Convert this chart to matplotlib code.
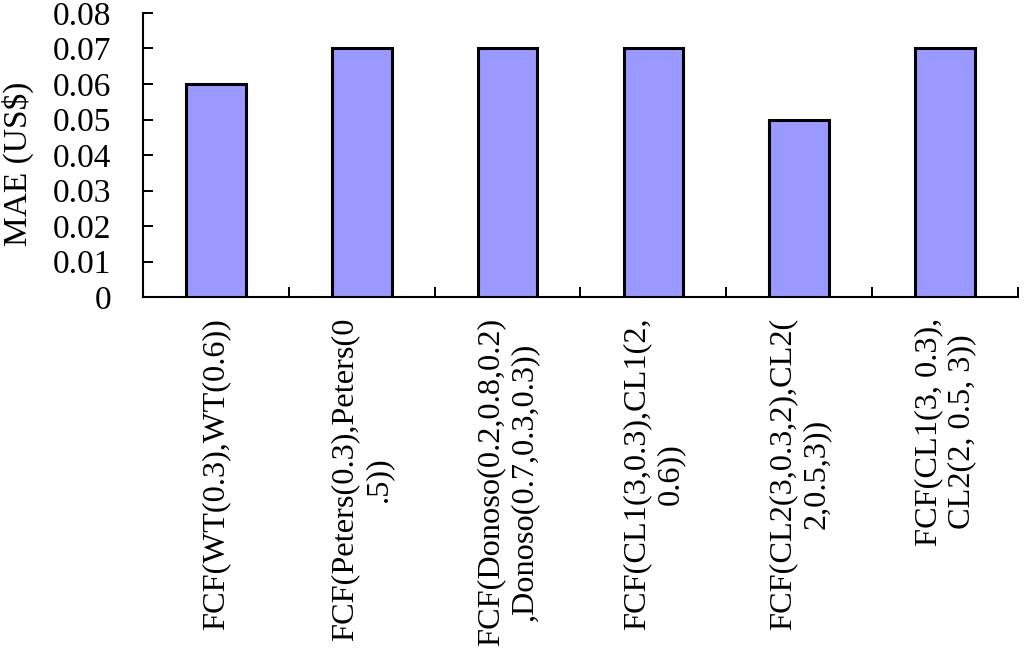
import matplotlib
matplotlib.use("Agg")
import matplotlib.pyplot as plt

categories = [
    "FCF(WT(0.3),WT(0.6))",
    "FCF(Peters(0.3),Peters(0\n.5))",
    "FCF(Donoso(0.2,0.8,0.2)\n,Donoso(0.7,0.3,0.3))",
    "FCF(CL1(3,0.3),CL1(2,\n0.6))",
    "FCF(CL2(3,0.3,2),CL2(\n2,0.5,3))",
    "FCF(CL1(3, 0.3),\nCL2(2, 0.5, 3))",
]
mae = [0.06, 0.07, 0.07, 0.07, 0.05, 0.07]
y_ticks = [0, 0.01, 0.02, 0.03, 0.04, 0.05, 0.06, 0.07, 0.08]
y_ticklabels = ["0", "0.01", "0.02", "0.03", "0.04", "0.05", "0.06", "0.07", "0.08"]

plt.rcParams['font.family'] = ['Liberation Serif', 'DejaVu Serif']

fig = plt.figure(figsize=(10.24, 6.54), dpi=100)
ax = fig.add_axes([143/1024, 1 - 297/654, 875/1024, 284/654])

x = list(range(len(categories)))
ax.bar(x, mae, width=0.41, color="#9999FF", edgecolor="black", linewidth=2.2, zorder=3)

ax.set_xlim(-0.5, len(categories) - 0.5)
ax.set_ylim(0, 0.08)
ax.set_yticks(y_ticks)
ax.set_yticklabels(y_ticklabels, fontsize=24)

ax.set_xticks(x)
ax.set_xticklabels(categories, rotation=90, fontsize=23.3, ha="center", va="top",
                   multialignment="center", linespacing=1.2)
ax.tick_params(axis="x", which="major", length=0, pad=15)
# category boundary ticks
ax.set_xticks([i + 0.5 for i in range(len(categories))], minor=True)
ax.tick_params(axis="x", which="minor", direction="in", length=7, width=1.4)
ax.tick_params(axis="y", direction="in", length=7, width=1.4, pad=23)

for s in ["top", "right"]:
    ax.spines[s].set_visible(False)
for s in ["left", "bottom"]:
    ax.spines[s].set_linewidth(1.5)

ax.set_ylabel("MAE (US$)", fontsize=24)
ax.yaxis.set_label_coords(-0.125, 0.47)

fig.savefig("out.png", dpi=100)
